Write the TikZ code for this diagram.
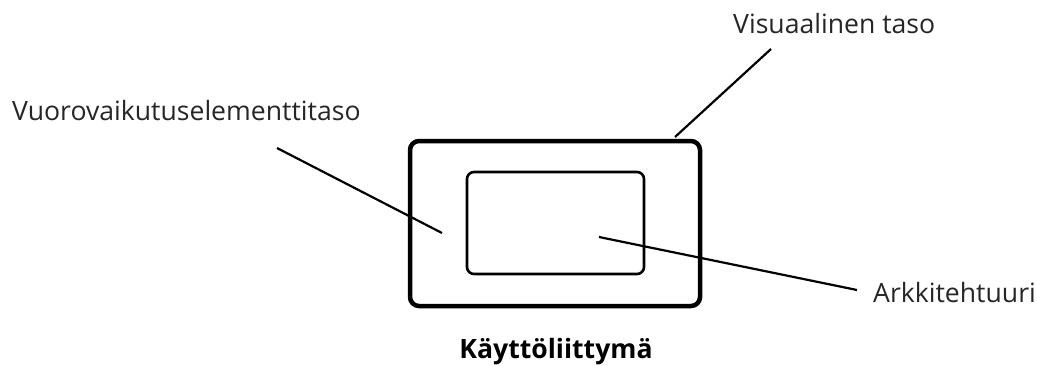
\documentclass[tikz,border=0pt]{standalone}
\usepackage{fontspec}
\setmainfont{Open Sans}
\usetikzlibrary{positioning}
\tikzset{
	labe/.append style={
		inner sep=0pt,
		text=black!85,
		font={\fontsize{26.6}{32}\selectfont}
	},
	layer/.append style={
		draw,
		inner sep=0pt,
		outer sep=0pt
	},
	outerlayer/.append style={
		layer,
		line width=4.5pt,
		rounded corners=9pt,
		minimum width=290pt,
		minimum height=165pt
	},
	innerlayer/.append style={
		layer,
		line width=2.6pt,
		rounded corners=7pt,
		minimum width=177pt,
		minimum height=102pt
	},
	pointer/.append style={
		line width=2.2pt
	}
}

\begin{document}
\begin{tikzpicture}[x=1pt, y=-1pt]
\useasboundingbox (0,0) rectangle (1038,365);

\node(ui)[outerlayer] at (555,223.5){};
\node(arch)[innerlayer] at (555.5,223){};

\node(vuoro)[labe, anchor=base west] at (12,120){Vuorovaikutuselementtitaso};
\node(visu)[labe, anchor=base west] at (733,33){Visuaalinen taso};
\node(arkk)[labe, anchor=base west] at (873,302){Arkkitehtuuri};
\node(title)[labe, anchor=base, text=black, font={\fontsize{26.6}{32}\selectfont\bfseries}] at (556,358){Käyttöliittymä};

% end points of the pointer lines
\coordinate(vuoroA) at (277,148);
\coordinate(vuoroB) at (442,233);
\coordinate(visuA) at (771,49);
\coordinate(visuB) at (675,137);
\coordinate(arkkA) at (857,290);
\coordinate(arkkB) at (599,237);

\draw[pointer] (vuoroA) -- (vuoroB);
\draw[pointer] (visuA) -- (visuB);
\draw[pointer] (arkkA) -- (arkkB);

\end{tikzpicture}
\end{document}
